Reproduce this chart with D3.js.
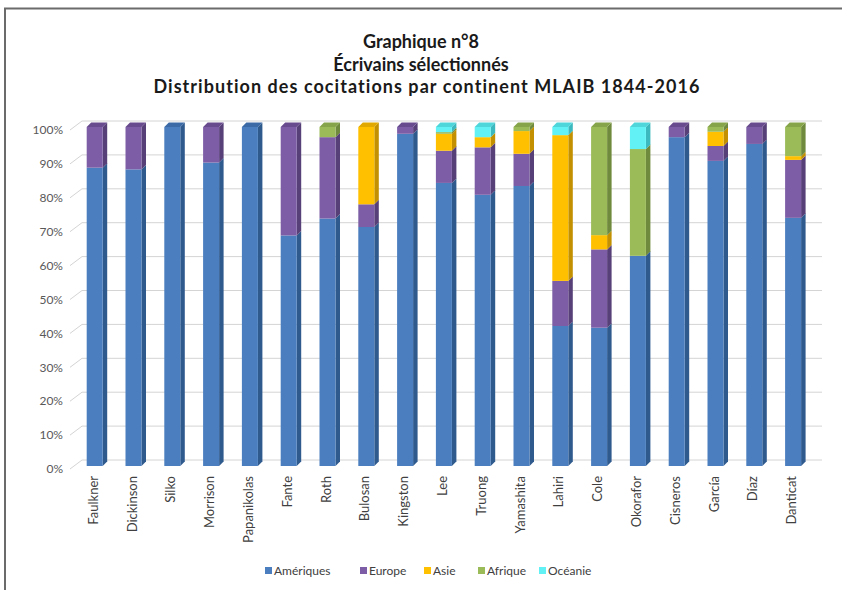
<!DOCTYPE html>
<html>
<head>
<meta charset="utf-8">
<script src="https://cdn.jsdelivr.net/npm/d3@7"></script>
<style>
  html, body { margin: 0; padding: 0; background: #fff; }
  svg { display: block; }
  text { font-family: Lato, "Open Sans", "DejaVu Sans", sans-serif; }
</style>
</head>
<body>
<svg id="chart" width="842" height="590"></svg>
<script>
// Writers (x-axis categories)
const authors = ["Faulkner", "Dickinson", "Silko", "Morrison", "Papanikolas", "Fante", "Roth",
  "Bulosan", "Kingston", "Lee", "Truong", "Yamashita", "Lahiri", "Cole", "Okorafor",
  "Cisneros", "García", "Díaz", "Danticat"];

// Share of cocitations by continent (%)
const ameriques = [88, 87.5, 100, 89.5, 100, 68, 73, 70.5, 98, 83.5, 80, 82.6, 41.3, 40.8, 62, 97, 90, 95, 73.2];
const europe    = [12, 12.5, 0, 10.5, 0, 32, 24, 6.7, 2, 9.5, 14, 9.5, 13.3, 23.1, 0, 3, 4.4, 5, 17.1];
const asie      = [0, 0, 0, 0, 0, 0, 0, 22.8, 0, 5, 3, 6.7, 43, 4.2, 0, 0, 4.2, 0, 1.1];
const afrique   = [0, 0, 0, 0, 0, 0, 3, 0, 0, 0.5, 0, 1.2, 0, 31.9, 31.5, 0, 1.4, 0, 8.6];
const oceanie   = [0, 0, 0, 0, 0, 0, 0, 0, 0, 1.5, 3, 0, 2.4, 0, 6.5, 0, 0, 0, 0];

const seriesNames = ["Amériques", "Europe", "Asie", "Afrique", "Océanie"];
const seriesValues = [ameriques, europe, asie, afrique, oceanie];
const yTicks = [0, 10, 20, 30, 40, 50, 60, 70, 80, 90, 100];

const titleLines = ["Graphique n°8", "Écrivains sélectionnés",
  "Distribution des cocitations par continent MLAIB 1844-2016"];
const titleSpacing = [0, 0, 1.05];
const titleCenter = [421, 421, 427];

// front / side / top shades for each continent
const palette = {
  "Amériques": { front: "#4a7ebf", side: "#2f5a8e", top: "#3c6aa6" },
  "Europe":    { front: "#7d5ea6", side: "#574078", top: "#684b8e" },
  "Asie":      { front: "#ffc000", side: "#c29000", top: "#e0a800" },
  "Afrique":   { front: "#9bbb59", side: "#6f8a3c", top: "#86a44a" },
  "Océanie":   { front: "#62f2f6", side: "#3cb9be", top: "#4fd6db" }
};

const svg = d3.select("#chart");

// outer frame (top and left edges visible)
svg.append("path")
  .attr("d", "M5,590 L5,8.5 L842,8.5")
  .attr("fill", "none")
  .attr("stroke", "#6b6b6b")
  .attr("stroke-width", 2);

// titles
svg.append("g").selectAll("text")
  .data(titleLines)
  .join("text")
  .attr("x", (d, i) => titleCenter[i])
  .attr("y", (d, i) => 48 + i * 22.5)
  .attr("text-anchor", "middle")
  .attr("font-size", 18)
  .attr("font-weight", "bold")
  .attr("letter-spacing", (d, i) => titleSpacing[i])
  .attr("fill", "#1a1a1a")
  .text(d => d);

// 3D geometry
const wallDX = 12, wallDY = -9;   // side wall depth
const barD = 4.5;                  // bar depth

const x = d3.scaleBand()
  .domain(authors)
  .range([75.3, 812.5])
  .paddingInner(0.5876)
  .paddingOuter(0.2938);

// front plane of the wall (labels) and of the bars
const yWall = d3.scaleLinear().domain([0, 100]).range([469, 130]);
const yBar  = d3.scaleLinear().domain([0, 100]).range([466, 127]);

const wallX0 = 70, backX0 = wallX0 + wallDX, backX1 = 822;

// gridlines on the back wall + diagonals on the side wall
const grid = svg.append("g");
grid.selectAll("line.gh")
  .data(yTicks)
  .join("line")
  .attr("class", "gh")
  .attr("x1", backX0).attr("x2", backX1)
  .attr("y1", d => yWall(d) + wallDY).attr("y2", d => yWall(d) + wallDY)
  .attr("stroke", "#d4d4d4").attr("stroke-width", 1);
grid.selectAll("line.gd")
  .data(yTicks)
  .join("line")
  .attr("class", "gd")
  .attr("x1", wallX0).attr("x2", backX0)
  .attr("y1", d => yWall(d)).attr("y2", d => yWall(d) + wallDY)
  .attr("stroke", "#d4d4d4").attr("stroke-width", 1);

// y tick labels
svg.append("g").selectAll("text")
  .data(yTicks)
  .join("text")
  .attr("x", 63)
  .attr("y", d => yWall(d))
  .attr("dy", "0.35em")
  .attr("text-anchor", "end")
  .attr("font-size", 12)
  .attr("fill", "#595959")
  .text(d => d + "%");

// stacked data
const rows = authors.map((a, i) => {
  const r = { author: a };
  seriesNames.forEach((s, k) => { r[s] = seriesValues[k][i]; });
  return r;
});
const stacked = d3.stack().keys(seriesNames)(rows);

const bw = x.bandwidth();
const bars = svg.append("g");

stacked.forEach(layer => {
  const c = palette[layer.key];
  const segs = layer.filter(d => d[1] - d[0] > 0);
  const g = bars.append("g");
  // side face
  g.selectAll("path.side")
    .data(segs)
    .join("path")
    .attr("class", "side")
    .attr("fill", c.side)
    .attr("d", d => {
      const xr = x(d.data.author) + bw;
      const yt = yBar(d[1]), yb = yBar(d[0]);
      return `M${xr},${yt} L${xr + barD},${yt - barD} L${xr + barD},${yb - barD} L${xr},${yb} Z`;
    });
  // front face
  g.selectAll("rect")
    .data(segs)
    .join("rect")
    .attr("x", d => x(d.data.author))
    .attr("y", d => yBar(d[1]))
    .attr("width", bw)
    .attr("height", d => yBar(d[0]) - yBar(d[1]))
    .attr("fill", c.front);
  // top face on the uppermost segment
  g.selectAll("path.top")
    .data(segs.filter(d => d[1] >= 99.95))
    .join("path")
    .attr("class", "top")
    .attr("fill", c.top)
    .attr("d", d => {
      const xl = x(d.data.author), yt = yBar(d[1]);
      return `M${xl},${yt} L${xl + barD},${yt - barD} L${xl + bw + barD},${yt - barD} L${xl + bw},${yt} Z`;
    });
});

// category labels, rotated
svg.append("g").selectAll("text")
  .data(authors)
  .join("text")
  .attr("transform", d => `translate(${x(d) + bw / 2 + 3},476) rotate(-90)`)
  .attr("text-anchor", "end")
  .attr("font-size", 13)
  .attr("fill", "#404040")
  .text(d => d);

// legend
const legendX = [265, 360, 424, 478, 539];
const legend = svg.append("g");
seriesNames.forEach((s, i) => {
  legend.append("rect")
    .attr("x", legendX[i]).attr("y", 567)
    .attr("width", 7).attr("height", 7)
    .attr("fill", palette[s].front);
  legend.append("text")
    .attr("x", legendX[i] + 9).attr("y", 571)
    .attr("dy", "0.35em")
    .attr("font-size", 12)
    .attr("fill", "#404040")
    .text(s);
});
</script>
</body>
</html>
